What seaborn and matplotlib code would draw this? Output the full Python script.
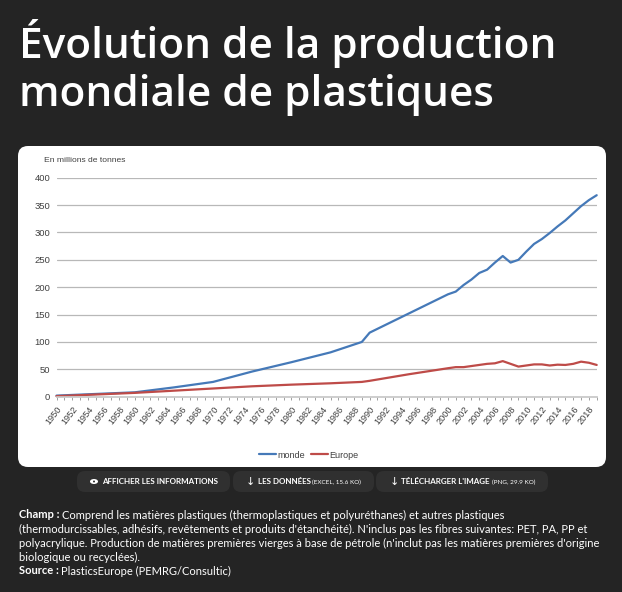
import matplotlib
matplotlib.use('Agg')
import matplotlib.pyplot as plt
from matplotlib.patches import FancyBboxPatch, Ellipse, Circle
import pandas as pd
import seaborn as sns

years = [1950, 1955, 1960, 1965, 1970, 1975, 1980, 1985, 1989, 1990, 1995, 2000, 2001, 2002,
         2003, 2004, 2005, 2006, 2007, 2008, 2009, 2010, 2011, 2012, 2013, 2014, 2015, 2016,
         2017, 2018, 2019]
monde = [2, 5, 8, 17, 27, 46, 63, 81, 100, 117, 152, 187, 192, 204,
         214, 226, 232, 245, 257, 245, 250, 265, 279, 288, 299, 311, 322, 335,
         348, 359, 368]
europe = [1, 4, 7, 11, 15, 19, 22, 24.5, 27, 29, 41, 52, 54, 54,
          56, 58, 60, 61, 65, 60, 55, 57, 59, 59, 57, 58.5, 58, 60,
          64, 62, 58]

y_ticks = [0, 50, 100, 150, 200, 250, 300, 350, 400]
x_labels = list(range(1950, 2019, 2))

title_lines = ['Évolution de la production', 'mondiale de plastiques']
note_lines = [
    'Comprend les matières plastiques (thermoplastiques et polyuréthanes) et autres plastiques',
    "(thermodurcissables, adhésifs, revêtements et produits d'étanchéité). N'inclus pas les fibres suivantes: PET, PA, PP et",
    "polyacrylique. Production de matières premières vierges à base de pétrole (n'inclut pas les matières premières d'origine",
    'biologique ou recyclées).',
]

W, H = 622, 592
BG = '#242424'
BTN = '#303030'
NOTE = 8.05

sns.set_theme(style='white')
plt.rcParams['font.family'] = ['Lato', 'DejaVu Sans']

fig = plt.figure(figsize=(W / 100, H / 100), dpi=100, facecolor=BG)

# page layer in pixel coordinates
page = fig.add_axes([0, 0, 1, 1])
page.set_xlim(0, W)
page.set_ylim(H, 0)
page.axis('off')

page.text(19, 58, title_lines[0], color='white', fontsize=30.5, fontweight='semibold',
          family='Open Sans', va='baseline')
page.text(19, 106, title_lines[1], color='white', fontsize=30.5, fontweight='semibold',
          family='Open Sans', va='baseline')

page.add_patch(FancyBboxPatch((27, 155), 570, 303, boxstyle='round,pad=9,rounding_size=10',
                              fc='white', ec='none'))

for x0, x1 in [(77, 230), (233, 374), (376, 548)]:
    page.add_patch(FancyBboxPatch((x0 + 8, 479), x1 - x0 - 16, 5, boxstyle='round,pad=8,rounding_size=8',
                                  fc=BTN, ec='none'))

page.add_patch(Ellipse((94, 481.5), 8, 5, fc='white', ec='none'))
page.add_patch(Circle((94, 481.5), 1, fc=BTN, ec='none'))
page.text(102, 481.5, 'AFFICHER LES INFORMATIONS', color='white', fontsize=5.75, fontweight='bold', va='center')
page.text(250, 481.5, '↓', color='white', fontsize=8, va='center', ha='center', family='DejaVu Sans')
page.text(258, 481.5, 'LES DONNÉES', color='white', fontsize=5.75, fontweight='bold', va='center')
page.text(312, 482, '(EXCEL, 15.6 KO)', color='white', fontsize=4.6, va='center')
page.text(394, 481.5, '↓', color='white', fontsize=8, va='center', ha='center', family='DejaVu Sans')
page.text(401, 481.5, "TÉLÉCHARGER L'IMAGE", color='white', fontsize=5.75, fontweight='bold', va='center')
page.text(492, 482, '(PNG, 29.9 KO)', color='white', fontsize=4.6, va='center')

page.text(19, 515, 'Champ :', color='white', fontsize=NOTE, fontweight='bold', va='center')
page.text(62, 515, note_lines[0], color='white', fontsize=NOTE, va='center')
page.text(19, 529, note_lines[1], color='white', fontsize=NOTE, va='center')
page.text(19, 543, note_lines[2], color='white', fontsize=NOTE, va='center')
page.text(19, 557, note_lines[3], color='white', fontsize=NOTE, va='center')
page.text(19, 571, 'Source :', color='white', fontsize=NOTE, fontweight='bold', va='center')
page.text(61, 571, 'PlasticsEurope (PEMRG/Consultic)', color='white', fontsize=NOTE, va='center')

# chart
left, right, top, bottom = 56.5, 596.7, 177.7, 396.7
ax = fig.add_axes([left / W, 1 - bottom / H, (right - left) / W, (bottom - top) / H])
ax.patch.set_alpha(0)

df = pd.DataFrame({'year': years * 2, 'value': monde + europe,
                   'serie': ['monde'] * len(years) + ['Europe'] * len(years)})
sns.lineplot(data=df, x='year', y='value', hue='serie', palette={'monde': '#4579b8', 'Europe': '#be4b48'},
             linewidth=1.6, ax=ax, clip_on=False)

ax.set_xlim(1950, 2019)
ax.set_ylim(0, 400)
ax.set_xlabel('')
ax.set_ylabel('')
ax.set_yticks(y_ticks)
ax.set_xticks(x_labels)
ax.set_xticks(range(1950, 2020), minor=True)
ax.set_xticklabels(x_labels, rotation=52, ha='right', rotation_mode='anchor',
                   family='Liberation Sans', fontsize=6.6, color='#404040')
ax.set_yticklabels(y_ticks, family='Liberation Sans', fontsize=6.8, color='#404040')
ax.grid(axis='y', color='#b8b8b8', linewidth=0.9)
ax.set_axisbelow(True)
sns.despine(ax=ax, left=True, bottom=False, top=True, right=True)
ax.spines['bottom'].set_color('#c8c8c8')
ax.tick_params(axis='x', which='both', length=2.5, width=0.6, color='#909090', bottom=True, pad=3)
ax.tick_params(axis='y', length=0, pad=4.5)

handles, labels = ax.get_legend_handles_labels()
leg = ax.legend(handles, labels, loc='center', bbox_to_anchor=((309 - left) / (right - left), (bottom - 455) / (bottom - top)),
                ncol=2, frameon=False, handlelength=1.9, handletextpad=0.15, columnspacing=0.65,
                prop={'family': 'Liberation Sans', 'size': 6.5})
for t in leg.get_texts():
    t.set_color('#404040')

page.text(44, 160, 'En millions de tonnes', family='Liberation Sans', fontsize=6.1, color='#404040', va='center')

fig.savefig('out.png', dpi=100, facecolor=BG)
